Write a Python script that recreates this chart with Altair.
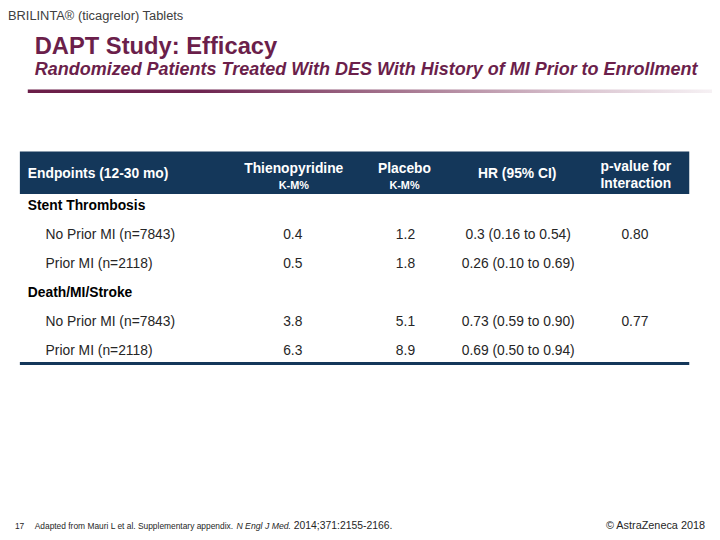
import altair as alt
import pandas as pd

# ---------------- data ----------------
brand = "BRILINTA® (ticagrelor) Tablets"
title = "DAPT Study: Efficacy"
subtitle = "Randomized Patients Treated With DES With History of MI Prior to Enrollment"

header_endpoints = "Endpoints (12-30 mo)"
header_thieno = ["Thienopyridine", "K-M%"]
header_placebo = ["Placebo", "K-M%"]
header_hr = "HR (95% CI)"
header_p = ["p-value for", "Interaction"]

groups = ["Stent Thrombosis", "Death/MI/Stroke"]
subgroups = ["No Prior MI (n=7843)", "Prior MI (n=2118)"]
thieno = [0.4, 0.5, 3.8, 6.3]
placebo = [1.2, 1.8, 5.1, 8.9]
hr_ci = ["0.3 (0.16 to 0.54)", "0.26 (0.10 to 0.69)",
         "0.73 (0.59 to 0.90)", "0.69 (0.50 to 0.94)"]
p_interaction = ["0.80", "", "0.77", ""]

footer_num = "17"
footer_a = "Adapted from Mauri L et al. Supplementary appendix."
footer_b = "N Engl J Med."
footer_c = "2014;371:2155-2166."
copyright_txt = "© AstraZeneca 2018"

# ---------------- table frame ----------------
rows = []
k = 0
i = 0
for g in groups:
    rows.append(dict(row=k, kind="group", label=g, thieno=None, placebo=None, hr="", p=""))
    k += 1
    for s in subgroups:
        rows.append(dict(row=k, kind="item", label=s, thieno=thieno[i], placebo=placebo[i],
                         hr=hr_ci[i], p=p_interaction[i]))
        k += 1
        i += 1
df = pd.DataFrame(rows)

OFF = 8
FONT = "Liberation Sans"
NAVY = "#14375a"
PURPLE = "#6b1f4b"
INK = "#262626"


def X(v):
    return alt.value(v - OFF)


def Y(v):
    return alt.value(v - OFF)


def txt(s, x, y, **kw):
    base = dict(font=FONT, baseline="middle")
    base.update(kw)
    return alt.Chart(pd.DataFrame({"t": [s]})).mark_text(**base).encode(
        x=X(x), y=Y(y), text="t:N")


def box(x1, x2, y1, y2, color):
    return alt.Chart(pd.DataFrame({"t": [0]})).mark_rect(color=color).encode(
        x=X(x1), x2=X(x2), y=Y(y1), y2=Y(y2))


layers = []

# titles
layers.append(txt(brand, 8, 13, align="left", fontSize=13, color="#404040"))
layers.append(txt(title, 35, 45, align="left", fontSize=24, fontWeight="bold", color=PURPLE))
layers.append(txt(subtitle, 35, 68, align="left", fontSize=18.2, fontWeight="bold",
                  fontStyle="italic", color=PURPLE))

grad = alt.LinearGradient(
    gradient="linear", x1=0, x2=1, y1=0, y2=0,
    stops=[alt.GradientStop(color="#6b1e48", offset=0),
           alt.GradientStop(color="#6e2450", offset=0.25),
           alt.GradientStop(color="#a77891", offset=0.55),
           alt.GradientStop(color="#d9c3cf", offset=0.8),
           alt.GradientStop(color="#f6f1f4", offset=1)])
layers.append(box(28, 720, 87.5, 91, grad))

# header band
layers.append(box(20, 697, 150, 193, NAVY))
hkw = dict(fontSize=14, fontWeight="bold", color="white")
layers.append(txt(header_endpoints, 28, 173, align="left", **hkw))
layers.append(txt(header_thieno[0], 297, 168, align="center", **hkw))
layers.append(txt(header_thieno[1], 297, 185, align="center", fontSize=11, fontWeight="bold", color="white"))
layers.append(txt(header_placebo[0], 409, 168, align="center", **hkw))
layers.append(txt(header_placebo[1], 409, 185, align="center", fontSize=11, fontWeight="bold", color="white"))
layers.append(txt(header_hr, 523, 173, align="center", **hkw))
layers.append(txt(header_p[0], 643, 166, align="center", **hkw))
layers.append(txt(header_p[1], 643, 183, align="center", **hkw))

# body
yenc = alt.Y("row:O", scale=alt.Scale(type="point", domain=list(range(len(rows))),
                                      range=[205 - OFF, 352 - OFF], padding=0), axis=None)
base = alt.Chart(df).encode(y=yenc)
bkw = dict(font=FONT, fontSize=14, baseline="middle", color=INK)
layers.append(base.transform_filter("datum.kind == 'group'").mark_text(
    align="left", fontWeight="bold", font=FONT, fontSize=14, baseline="middle", color="black"
).encode(x=X(28), text="label:N"))
items = base.transform_filter("datum.kind == 'item'")
layers.append(items.mark_text(align="left", **bkw).encode(x=X(46), text="label:N"))
layers.append(items.mark_text(align="center", **bkw).encode(
    x=X(296), text=alt.Text("thieno:Q", format=".1f")))
layers.append(items.mark_text(align="center", **bkw).encode(
    x=X(410), text=alt.Text("placebo:Q", format=".1f")))
layers.append(items.mark_text(align="center", **bkw).encode(x=X(524), text="hr:N"))
layers.append(items.transform_filter("datum.p != ''").mark_text(align="center", **bkw).encode(
    x=X(642), text="p:N"))

# bottom rule
layers.append(box(20, 697, 363, 366, NAVY))

# footer
fkw = dict(fontSize=8.5, color=INK, align="left")
layers.append(txt(footer_num, 15, 529, **fkw))
layers.append(txt(footer_a, 35, 529, **fkw))
layers.append(txt(footer_b, 239, 529, fontStyle="italic", fontSize=8.8, color=INK, align="left"))
layers.append(txt(footer_c, 297, 529, fontSize=10.5, color=INK, align="left"))
layers.append(txt(copyright_txt, 713, 529, fontSize=11, color=INK, align="right"))

chart = alt.layer(*layers).properties(
    width=712, height=532, padding=0, autosize=alt.AutoSizeParams(type="none")
).configure_view(strokeWidth=0)

chart.save("out.html", embed_options={"renderer": "svg", "actions": False})
